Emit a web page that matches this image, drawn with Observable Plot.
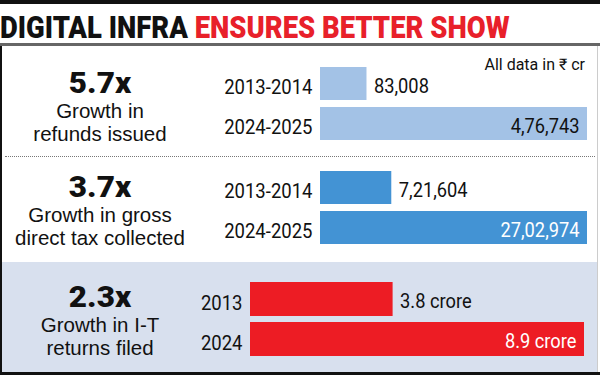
<!DOCTYPE html>
<html>
<head>
<meta charset="utf-8">
<script src="https://cdn.jsdelivr.net/npm/d3@7"></script>
<script src="https://cdn.jsdelivr.net/npm/@observablehq/plot@0.6"></script>
<style>
  html, body { margin: 0; padding: 0; background: #fff; }
  #wrap { position: relative; width: 600px; height: 375px; overflow: hidden; background: #fff; }
  .abs { position: absolute; }
  .narrow { font-family: "Liberation Sans Narrow", "Roboto", "Liberation Sans", sans-serif; }
  .big { position: absolute; left: 0; width: 200px; text-align: center; font-family: "Roboto", "Liberation Sans", Arial, sans-serif; font-weight: 900; font-size: 30px; color: #111; line-height: 24px; transform: scaleX(1.05); }
  .desc { position: absolute; left: 0; width: 200px; text-align: center; font-family: "Liberation Sans", Arial, sans-serif; font-size: 20.5px; color: #111; line-height: 23px; white-space: nowrap; }
  .panel svg { display: block; }
</style>
</head>
<body>
<div id="wrap">
  <div class="abs" style="left:0;top:0;width:600px;height:4px;background:#111;"></div>
  <div class="abs narrow" id="title" style="left:0;top:8px;white-space:nowrap;font-weight:900;font-size:31px;line-height:40px;transform-origin:0 50%;transform:scaleX(0.885);">
    <span style="color:#111">DIGITAL INFRA</span> <span style="color:#e8202a">ENSURES BETTER SHOW</span>
  </div>
  <div class="abs" style="left:0;top:43px;width:600px;height:3px;background:#666;"></div>
  <div class="abs" style="left:0;top:46px;width:2px;height:329px;background:#111;"></div>
  <div class="abs" style="left:597px;top:46px;width:1px;height:329px;background:#ccc;"></div>
  <div class="abs" style="left:2px;top:262px;width:595px;height:110px;background:#d8e0ee;"></div>
  <div class="abs" style="left:5px;top:156px;width:590px;height:0;border-top:1px dotted #777;"></div>
  <div class="abs" style="left:0;top:372px;width:600px;height:3px;background:#111;"></div>

  <div class="abs narrow" style="left:400px;top:56px;width:185px;text-align:right;font-size:16px;line-height:18px;color:#111;">All data in ₹ cr</div>

  <div class="big" style="top:71px;">5.7x</div>
  <div class="desc" style="top:99px;">Growth in<br>refunds issued</div>

  <div class="big" style="top:175px;">3.7x</div>
  <div class="desc" style="top:203px;">Growth in gross<br>direct tax collected</div>

  <div class="big" style="top:285px;">2.3x</div>
  <div class="desc" style="top:313px;">Growth in I-T<br>returns filed</div>

  <div class="abs panel" id="p1" style="left:0;top:48px;"></div>
  <div class="abs panel" id="p2" style="left:0;top:158px;"></div>
  <div class="abs panel" id="p3" style="left:0;top:262px;"></div>
</div>
<script>
// Refunds issued (₹ cr)
const refundYears = ["2013-2014", "2024-2025"];
const refundValues = [83008, 476743];
const refundLabels = ["83,008", "4,76,743"];

// Gross direct tax collected (₹ cr)
const taxYears = ["2013-2014", "2024-2025"];
const taxValues = [721604, 2702974];
const taxLabels = ["7,21,604", "27,02,974"];

// I-T returns filed (crore)
const returnYears = ["2013", "2024"];
const returnValues = [3.8, 8.9];
const returnLabels = ["3.8 crore", "8.9 crore"];

const NARROW = "Liberation Sans Narrow, Roboto, Liberation Sans, sans-serif";
const SVGNS = "http://www.w3.org/2000/svg";

// horizontally condense text labels around their anchor (needs svg in DOM)
function squeeze(svg, groupIndexes, s) {
  const groups = svg.querySelectorAll('g[aria-label="text"]');
  groupIndexes.forEach(gi => {
    const grp = groups[gi];
    if (!grp) return;
    Array.from(grp.querySelectorAll("text")).forEach(t => {
      const w = document.createElementNS(SVGNS, "g");
      t.parentNode.insertBefore(w, t);
      w.appendChild(t);
      const b = w.getBBox();
      const anchor = getComputedStyle(t).textAnchor;
      const ax = anchor === "end" ? b.x + b.width : anchor === "middle" ? b.x + b.width / 2 : b.x;
      w.setAttribute("transform", `translate(${ax},0) scale(${s},1) translate(${-ax},0)`);
    });
  });
}

function panel(years, values, labels, cfg) {
  const data = years.map((y, i) => ({year: y, value: values[i], label: labels[i], idx: i}));
  return Plot.plot({
    width: 600,
    height: cfg.height,
    marginLeft: cfg.ml,
    marginRight: cfg.mr,
    marginTop: cfg.mt,
    marginBottom: cfg.mb,
    x: {domain: [0, d3.max(values)], axis: null},
    y: {domain: years, axis: null, paddingInner: cfg.pad, paddingOuter: 0},
    style: {background: "transparent", overflow: "visible"},
    marks: [
      Plot.barX(data, {x: "value", y: "year", fill: cfg.color}),
      Plot.text(data, {y: "year", text: "year", frameAnchor: "left", textAnchor: "end", dx: -8, dy: 4,
        fontFamily: NARROW, fontSize: 19.5, fill: "#111"}),
      Plot.text(data.filter(d => d.idx === 0), {x: "value", y: "year", text: "label", textAnchor: "start", dx: 7, dy: 2,
        fontFamily: NARROW, fontSize: 21, fill: "#111"}),
      Plot.text(data.filter(d => d.idx === 1), {x: "value", y: "year", text: "label", textAnchor: "end", dx: -8, dy: 2,
        fontFamily: NARROW, fontSize: 21, fill: cfg.inside})
    ]
  });
}

function mount(id, svg) {
  document.getElementById(id).appendChild(svg);
  try {
    squeeze(svg, [0], 0.95);
    squeeze(svg, [1, 2], 0.87);
  } catch (e) { /* keep unsqueezed text */ }
}

mount("p1", panel(refundYears, refundValues, refundLabels,
  {height: 110, ml: 320, mr: 13, mt: 18, mb: 17, pad: 0.17, color: "#a3c2e6", inside: "#111"}));
mount("p2", panel(taxYears, taxValues, taxLabels,
  {height: 104, ml: 320, mr: 13, mt: 12, mb: 17, pad: 0.17, color: "#4393d4", inside: "#fff"}));
mount("p3", panel(returnYears, returnValues, returnLabels,
  {height: 110, ml: 250, mr: 16, mt: 19, mb: 16, pad: 0.15, color: "#ed1c24", inside: "#fff"}));
</script>
</body>
</html>
